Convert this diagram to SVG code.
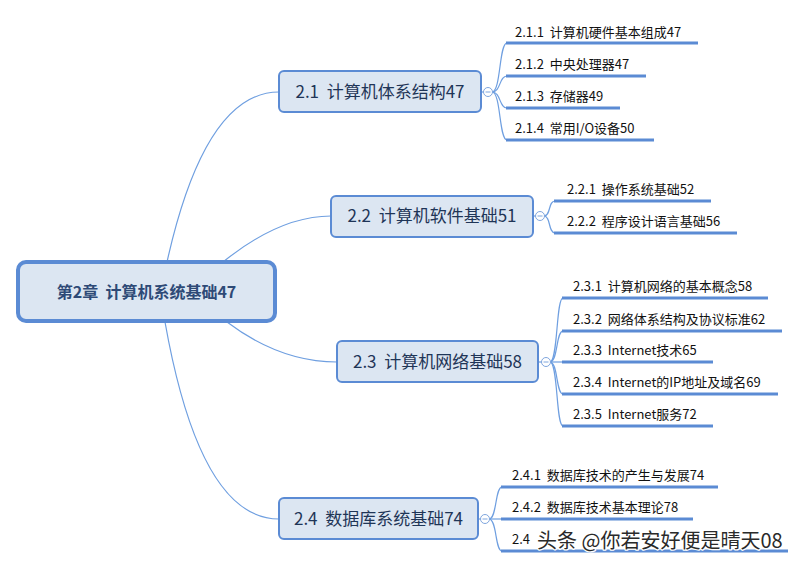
<svg xmlns="http://www.w3.org/2000/svg" width="807" height="568" viewBox="0 0 807 568" xml:space="preserve">
<style>
text{font-family:"Noto Sans CJK SC","Liberation Sans",sans-serif;white-space:pre}
.root{fill:#DCE6F2;stroke:#5B8BD4;stroke-width:4}
.topic{fill:#DCE6F2;stroke:#5B8BD4;stroke-width:2}
.rt{font-size:16px;font-weight:bold;fill:#2E4A77;text-anchor:middle}
.tt{font-size:17px;fill:#1F3557;text-anchor:middle}
.st{font-size:13px;fill:#111}
.ul{stroke:#5B8BD4;stroke-width:3;fill:none}
.con{stroke:#6F9FE0;stroke-width:1.2;fill:none}
.col{fill:#fff;stroke:#7FA6DE;stroke-width:1}
.wm{font-size:20px;fill:#2a2a2a;stroke:#fff;stroke-width:2.5;paint-order:stroke;stroke-linejoin:round}
</style>
<rect width="807" height="568" fill="#fff"/>
<g id="connectors">
<path class="con" d="M167,262 Q205,92 279,92"/>
<path class="con" d="M223,262 Q280,216 331,216"/>
<path class="con" d="M227,322 Q280,362 337,362"/>
<path class="con" d="M165,322 Q200,519 279,519"/>
<path class="con" d="M481,92 L484,92"/>
<path class="con" d="M533,216 L536,216"/>
<path class="con" d="M538,362 L542,362"/>
<path class="con" d="M478,519 L481,519"/>
<path class="con" d="M492,92 C501,92 499,43 507,43"/>
<path class="con" d="M492,92 C501,92 499,76 507,76"/>
<path class="con" d="M492,92 C501,92 499,108 507,108"/>
<path class="con" d="M492,92 C501,92 499,140 507,140"/>
<path class="con" d="M544,216 C551,216 548,201 555,201"/>
<path class="con" d="M544,216 C551,216 548,233 555,233"/>
<path class="con" d="M550,362 C558,362 556,298 563,298"/>
<path class="con" d="M550,362 C558,362 556,331 563,331"/>
<path class="con" d="M550,362 L563,362"/>
<path class="con" d="M550,362 C558,362 556,394 563,394"/>
<path class="con" d="M550,362 C558,362 556,426 563,426"/>
<path class="con" d="M489,519 C497,519 495,487 502,487"/>
<path class="con" d="M489,519 L502,519"/>
<path class="con" d="M489,519 C497,519 495,551 502,551"/>
</g>
<g id="root">
<rect class="root" x="18" y="262" width="257" height="59" rx="8"/>
<text class="rt" x="146.5" y="298">第2章  计算机系统基础47</text>
</g>
<g id="t21">
<rect class="topic" x="279" y="71" width="202" height="41" rx="5"/>
<text class="tt" x="380" y="98">2.1  计算机体系结构47</text>
<circle class="col" cx="488" cy="92" r="4.5"/><path d="M485.5,92h5" stroke="#7FA6DE"/>
</g>
<g id="t22">
<rect class="topic" x="331" y="196" width="202" height="41" rx="5"/>
<text class="tt" x="432" y="222">2.2  计算机软件基础51</text>
<circle class="col" cx="540" cy="216" r="4.5"/><path d="M537.5,216h5" stroke="#7FA6DE"/>
</g>
<g id="t23">
<rect class="topic" x="337" y="341" width="201" height="41" rx="5"/>
<text class="tt" x="437.5" y="368">2.3  计算机网络基础58</text>
<circle class="col" cx="546" cy="362" r="4.5"/><path d="M543.5,362h5" stroke="#7FA6DE"/>
</g>
<g id="t24">
<rect class="topic" x="279" y="498" width="199" height="41" rx="5"/>
<text class="tt" x="378.5" y="525">2.4  数据库系统基础74</text>
<circle class="col" cx="485" cy="519" r="4.5"/><path d="M482.5,519h5" stroke="#7FA6DE"/>
</g>
<g id="s211"><path class="ul" d="M506,43H698"/><text class="st" x="515" y="37">2.1.1  计算机硬件基本组成47</text></g>
<g id="s212"><path class="ul" d="M506,76H646"/><text class="st" x="515" y="69">2.1.2  中央处理器47</text></g>
<g id="s213"><path class="ul" d="M506,108H620"/><text class="st" x="515" y="101">2.1.3  存储器49</text></g>
<g id="s214"><path class="ul" d="M506,140H654"/><text class="st" x="515" y="133">2.1.4  常用I/O设备50</text></g>
<g id="s221"><path class="ul" d="M554,201H711"/><text class="st" x="567" y="194">2.2.1  操作系统基础52</text></g>
<g id="s222"><path class="ul" d="M554,233H737"/><text class="st" x="567" y="226">2.2.2  程序设计语言基础56</text></g>
<g id="s231"><path class="ul" d="M562,298H768"/><text class="st" x="573" y="291">2.3.1  计算机网络的基本概念58</text></g>
<g id="s232"><path class="ul" d="M562,331H782"/><text class="st" x="573" y="324">2.3.2  网络体系结构及协议标准62</text></g>
<g id="s233"><path class="ul" d="M562,362H713"/><text class="st" x="573" y="355">2.3.3  Internet技术65</text></g>
<g id="s234"><path class="ul" d="M562,394H778"/><text class="st" x="573" y="387">2.3.4  Internet的IP地址及域名69</text></g>
<g id="s235"><path class="ul" d="M562,426H713"/><text class="st" x="573" y="419">2.3.5  Internet服务72</text></g>
<g id="s241"><path class="ul" d="M501,487H718"/><text class="st" x="512" y="480">2.4.1  数据库技术的产生与发展74</text></g>
<g id="s242"><path class="ul" d="M501,519H693"/><text class="st" x="512" y="512">2.4.2  数据库技术基本理论78</text></g>
<g id="s243"><path class="ul" d="M501,551H788"/><text class="st" x="512" y="544">2.4</text></g>
<text class="wm" x="537" y="548">头条 @你若安好便是晴天08</text>
</svg>
